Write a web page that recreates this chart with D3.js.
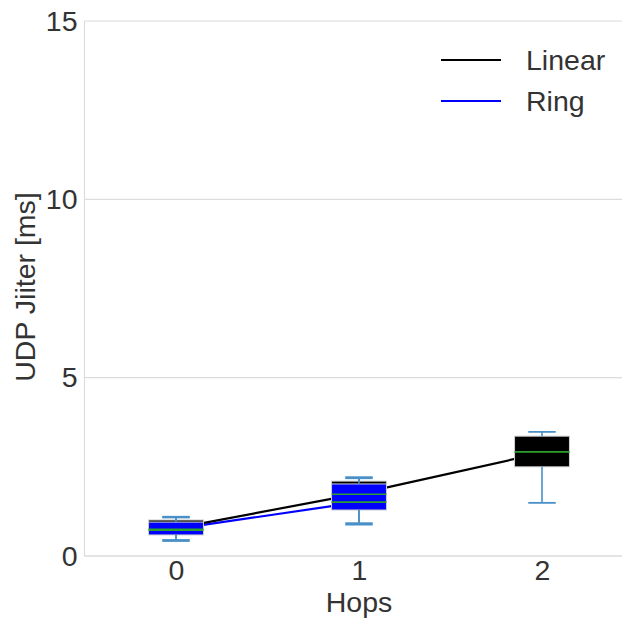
<!DOCTYPE html>
<html>
<head>
<meta charset="utf-8">
<script src="https://cdn.jsdelivr.net/npm/d3@7"></script>
<style>
  html, body { margin: 0; padding: 0; background: #fff; }
  svg { display: block; font-family: "Liberation Sans", Arial, sans-serif; }
</style>
</head>
<body>
<svg id="chart" width="622" height="619"></svg>
<script>
// Hop counts on the x axis
const hops = [0, 1, 2];
const yTicks = [0, 5, 10, 15];

// Linear topology: box statistics per hop count
const linearQ1     = [0.60, 1.30, 2.50];
const linearMedian = [0.75, 1.73, 2.92];
const linearQ3     = [1.01, 2.10, 3.36];
const linearLow    = [0.45, 0.92, 1.49];
const linearHigh   = [1.10, 2.21, 3.48];
const linearMean   = [0.78, 1.75, 2.89];

// Ring topology: box statistics per hop count
const ringHops   = [0, 1];
const ringQ1     = [0.59, 1.29];
const ringMedian = [0.72, 1.51];
const ringQ3     = [0.95, 2.02];
const ringLow    = [0.42, 0.88];
const ringHigh   = [1.08, 2.18];
const ringMean   = [0.76, 1.51];

const series = [
  { name: "Linear", color: "#000000", hops: hops, q1: linearQ1, med: linearMedian, q3: linearQ3, lo: linearLow, hi: linearHigh, mean: linearMean },
  { name: "Ring",   color: "#0000ff", hops: ringHops, q1: ringQ1, med: ringMedian, q3: ringQ3, lo: ringLow, hi: ringHigh, mean: ringMean }
];

const svg = d3.select("#chart");
const plotLeft = 84.5, plotRight = 633.5, plotTop = 21, plotBottom = 556;

const x = d3.scaleLinear().domain([-0.5, 2.5]).range([plotLeft, plotRight]);
const y = d3.scaleLinear().domain([0, 15]).range([plotBottom, plotTop]);

const textColor = "#333333";
const gridColor = "#dcdcdc";
const fontSize = 28.5;

// Horizontal grid
svg.append("g")
  .selectAll("line")
  .data(yTicks)
  .join("line")
  .attr("x1", plotLeft).attr("x2", plotRight)
  .attr("y1", d => y(d)).attr("y2", d => y(d))
  .attr("stroke", gridColor).attr("stroke-width", 1.2);

// Spines
svg.append("line").attr("x1", plotLeft).attr("x2", plotLeft).attr("y1", plotTop).attr("y2", plotBottom)
  .attr("stroke", gridColor).attr("stroke-width", 1.2);
svg.append("line").attr("x1", plotLeft).attr("x2", plotRight).attr("y1", plotBottom).attr("y2", plotBottom)
  .attr("stroke", gridColor).attr("stroke-width", 1.2);

// Y axis tick labels
const yAxis = d3.axisLeft(y).tickValues(yTicks).tickSize(0).tickPadding(7);
const gy = svg.append("g").attr("transform", `translate(${plotLeft},0)`).call(yAxis);
gy.select(".domain").remove();
gy.selectAll("text").attr("font-size", fontSize).attr("fill", textColor)
  .attr("font-family", "Liberation Sans, Arial, sans-serif");

// X axis tick labels
const xAxis = d3.axisBottom(x).tickValues(hops).tickFormat(d3.format("d")).tickSize(0).tickPadding(4);
const gx = svg.append("g").attr("transform", `translate(0,${plotBottom})`).call(xAxis);
gx.select(".domain").remove();
gx.selectAll("text").attr("font-size", fontSize).attr("fill", textColor)
  .attr("font-family", "Liberation Sans, Arial, sans-serif");

// Axis titles
svg.append("text")
  .attr("x", x(1)).attr("y", 612)
  .attr("text-anchor", "middle")
  .attr("font-size", fontSize).attr("fill", textColor)
  .text("Hops");
svg.append("text")
  .attr("transform", `translate(35,287) rotate(-90)`)
  .attr("text-anchor", "middle")
  .attr("font-size", fontSize).attr("fill", textColor)
  .text("UDP Jiiter [ms]");

// Mean lines (beneath the boxes)
const lineGen = d3.line().x(d => x(d[0])).y(d => y(d[1]));
[series[1], series[0]].forEach(s => {
  svg.append("path")
    .datum(s.hops.map((h, i) => [h, s.mean[i]]))
    .attr("d", lineGen)
    .attr("fill", "none")
    .attr("stroke", s.color)
    .attr("stroke-width", 2.2);
});

// Boxes (patches first, then whiskers and medians on top)
const boxHalf = 0.15, capHalf = 0.075;
series.forEach(s => {
  svg.append("g").selectAll("rect")
    .data(s.hops.map((h, i) => ({ h, q1: s.q1[i], q3: s.q3[i] })))
    .join("rect")
    .attr("x", d => x(d.h - boxHalf))
    .attr("width", d => x(d.h + boxHalf) - x(d.h - boxHalf))
    .attr("y", d => y(d.q3))
    .attr("height", d => y(d.q1) - y(d.q3))
    .attr("fill", s.color)
    .attr("stroke", "#d0d0d0")
    .attr("stroke-width", 1);
});

const whiskerColor = "#4a90c8";
series.forEach(s => {
  const g = svg.append("g");
  s.hops.forEach((h, i) => {
    // lower whisker and cap
    g.append("line").attr("x1", x(h)).attr("x2", x(h))
      .attr("y1", y(s.q1[i])).attr("y2", y(s.lo[i]))
      .attr("stroke", whiskerColor).attr("stroke-width", 1.6);
    g.append("line").attr("x1", x(h - capHalf)).attr("x2", x(h + capHalf))
      .attr("y1", y(s.lo[i])).attr("y2", y(s.lo[i]))
      .attr("stroke", whiskerColor).attr("stroke-width", 1.8);
    // upper whisker and cap
    g.append("line").attr("x1", x(h)).attr("x2", x(h))
      .attr("y1", y(s.q3[i])).attr("y2", y(s.hi[i]))
      .attr("stroke", whiskerColor).attr("stroke-width", 1.6);
    g.append("line").attr("x1", x(h - capHalf)).attr("x2", x(h + capHalf))
      .attr("y1", y(s.hi[i])).attr("y2", y(s.hi[i]))
      .attr("stroke", whiskerColor).attr("stroke-width", 1.8);
    // median
    g.append("line").attr("x1", x(h - boxHalf)).attr("x2", x(h + boxHalf))
      .attr("y1", y(s.med[i])).attr("y2", y(s.med[i]))
      .attr("stroke", "#2ca02c").attr("stroke-width", 1.6);
  });
});

// Legend
const legend = svg.append("g");
series.forEach((s, i) => {
  const ly = 60 + i * 41;
  legend.append("line").attr("x1", 441).attr("x2", 501).attr("y1", ly).attr("y2", ly)
    .attr("stroke", s.color).attr("stroke-width", 2.2);
  legend.append("text").attr("x", 526).attr("y", ly).attr("dy", "0.35em")
    .attr("font-size", fontSize).attr("fill", textColor)
    .text(s.name);
});
</script>
</body>
</html>
